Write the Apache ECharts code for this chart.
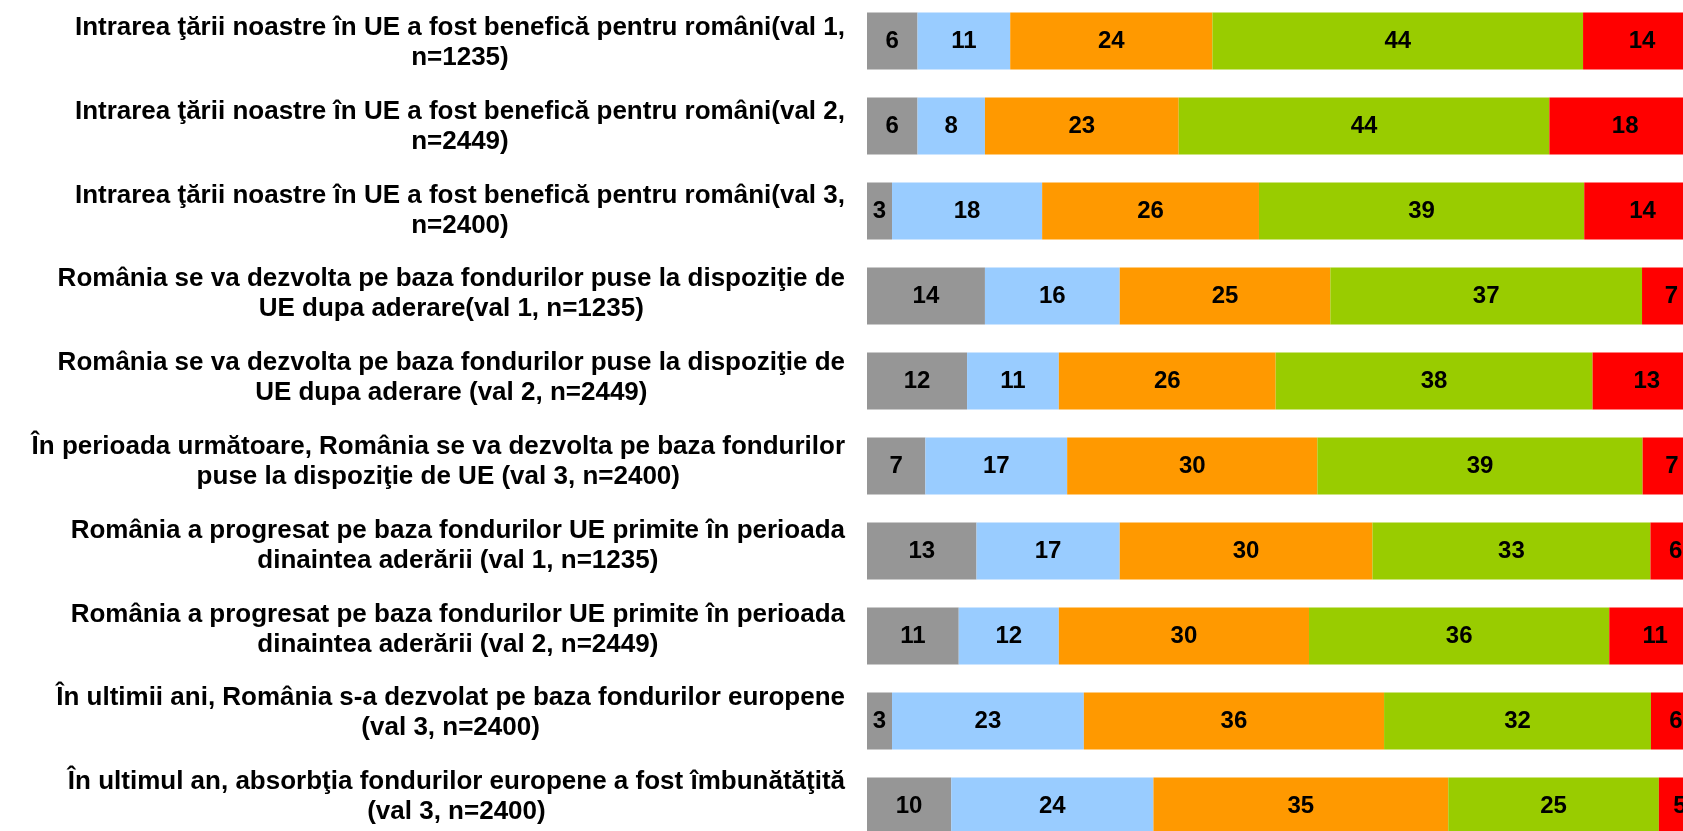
<!DOCTYPE html>
<html>
<head>
<meta charset="utf-8">
<title>Fonduri UE</title>
<script src="https://cdn.jsdelivr.net/npm/echarts@6/dist/echarts.min.js"></script>
<style>
  html, body { margin: 0; padding: 0; background: #fff; }
  #chart { width: 1683px; height: 831px; }
</style>
</head>
<body>
<div id="chart"></div>
<script>
const categories = [
  'Intrarea ţării noastre în UE a fost benefică pentru români(val 1,\nn=1235)',
  'Intrarea ţării noastre în UE a fost benefică pentru români(val 2,\nn=2449)',
  'Intrarea ţării noastre în UE a fost benefică pentru români(val 3,\nn=2400)',
  'România se va dezvolta pe baza fondurilor puse la dispoziţie de\nUE dupa aderare(val 1, n=1235)',
  'România se va dezvolta pe baza fondurilor puse la dispoziţie de\nUE dupa aderare (val 2, n=2449)',
  'În perioada următoare, România se va dezvolta pe baza fondurilor\npuse la dispoziţie de UE (val 3, n=2400)',
  'România a progresat pe baza fondurilor UE primite în perioada\ndinaintea aderării (val 1, n=1235)',
  'România a progresat pe baza fondurilor UE primite în perioada\ndinaintea aderării (val 2, n=2449)',
  'În ultimii ani, România s-a dezvolat pe baza fondurilor europene\n(val 3, n=2400)',
  'În ultimul an, absorbţia fondurilor europene a fost îmbunătăţită\n(val 3, n=2400)'
]

const seriesGray = [6, 6, 3, 14, 12, 7, 13, 11, 3, 10]
const seriesBlue = [11, 8, 18, 16, 11, 17, 17, 12, 23, 24]
const seriesOrange = [24, 23, 26, 25, 26, 30, 30, 30, 36, 35]
const seriesGreen = [44, 44, 39, 37, 38, 39, 33, 36, 32, 25]
const seriesRed = [14, 18, 14, 7, 13, 7, 6, 11, 6, 5]

const allSeries = [
  { name: 's1', color: '#969696', values: seriesGray },
  { name: 's2', color: '#99ccff', values: seriesBlue },
  { name: 's3', color: '#ff9900', values: seriesOrange },
  { name: 's4', color: '#99cc00', values: seriesGreen },
  { name: 's5', color: '#ff0000', values: seriesRed }
]

// 100% stacked: each row is scaled to its own total
const rowTotals = categories.map((c, i) => allSeries.reduce((s, ser) => s + ser.values[i], 0))

const font = '"Liberation Sans", Arial, sans-serif'

const chart = echarts.init(document.getElementById('chart'))
const options = {
  animation: false,
  // grid 0 holds the bars, grid 1 only carries the category labels
  // (the labels in the original are spaced a little tighter than the bars)
  grid: [
    { outerBoundsMode: 'none', left: 867, top: -1.5, width: 834, height: 850 },
    { outerBoundsMode: 'none', left: 867, top: 1, width: 834, height: 838 }
  ],
  xAxis: [
    { type: 'value', gridIndex: 0, min: 0, max: 100, show: false },
    { type: 'value', gridIndex: 1, min: 0, max: 100, show: false }
  ],
  yAxis: [
    {
      type: 'category',
      gridIndex: 0,
      inverse: true,
      data: categories,
      axisLine: { show: false },
      axisTick: { show: false },
      splitLine: { show: false },
      axisLabel: { show: false }
    },
    {
      type: 'category',
      gridIndex: 1,
      inverse: true,
      data: categories,
      axisLine: { show: false },
      axisTick: { show: false },
      splitLine: { show: false },
      axisLabel: {
        interval: 0,
        margin: 22,
        formatter: function (value) {
          return value.split('\n').map(l => '{c|' + l + '}').join('\n')
        },
        rich: {
          c: {
            align: 'center',
            fontSize: 26,
            fontWeight: 'bold',
            fontFamily: font,
            color: '#000',
            lineHeight: 30
          }
        }
      }
    }
  ],
  series: allSeries.map(ser => ({
    name: ser.name,
    type: 'bar',
    stack: 'total',
    xAxisIndex: 0,
    yAxisIndex: 0,
    barWidth: 57,
    itemStyle: { color: ser.color },
    label: {
      show: true,
      position: 'inside',
      color: '#000',
      fontSize: 24,
      fontWeight: 'bold',
      fontFamily: font,
      formatter: p => String(ser.values[p.dataIndex])
    },
    data: ser.values.map((v, i) => v / rowTotals[i] * 100)
  }))
}

chart.setOption(options)
</script>
</body>
</html>
